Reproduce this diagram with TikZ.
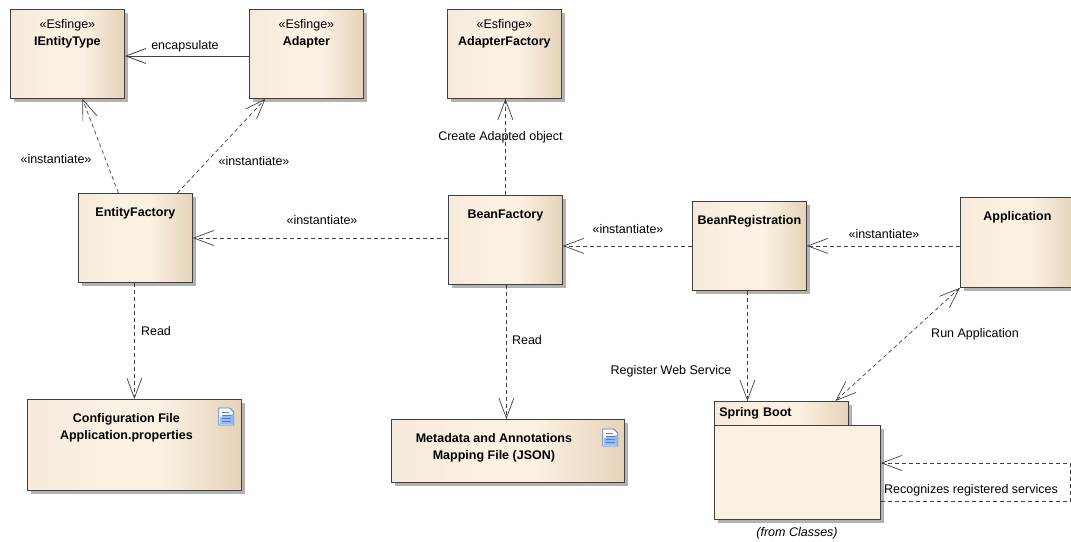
\documentclass[tikz,border=0pt]{standalone}
\usepackage{fontspec}
\setmainfont{Liberation Sans}
\usetikzlibrary{arrows.meta, shadows, positioning, calc}
\definecolor{boxleft}{HTML}{F5EADB}
\definecolor{boxmid}{HTML}{FBF1E3}
\definecolor{boxright}{HTML}{E5D3B9}
\definecolor{linegray}{HTML}{404040}
\definecolor{iconblue}{HTML}{4A7FD6}
\pgfdeclarehorizontalshading{boxshade}{100bp}{color(0bp)=(boxleft); color(25bp)=(boxleft); color(44bp)=(boxmid); color(56bp)=(boxmid); color(75bp)=(boxright); color(100bp)=(boxright)}
\tikzset{
  docicon/.pic={
    \draw [iconblue, fill=white, line width=.8pt] (0,0)--(11,0)--(15,4)--(15,17)--(0,17)--cycle;
    \fill [iconblue!55] (1,9)--(14,6)--(14,16)--(1,16)--cycle;
    \draw [iconblue, line width=.8pt] (3,4)--(10,4) (3,7)--(12,7) (3,10)--(12,10) (3,13)--(12,13);
  }
}
\begin{document}
\begin{tikzpicture}[x=1pt,y=-1pt,>={Straight Barb[length=20pt,width=15pt]},
      every node/.style={font=\fontsize{12.5}{17}\selectfont,text=black,inner sep=0pt},
      shade box/.style={draw=linegray,line width=.8pt,shading=boxshade,
         drop shadow={shadow xshift=4pt,shadow yshift=-4pt,fill=black,opacity=.3},anchor=north west},
      class/.style={shade box,align=center,minimum width=114pt,text height=36pt,text depth=53pt},
      plainclass/.style={class,text height=23pt,text depth=66pt},
      filebox/.style={shade box,minimum width=214pt,text height=23pt,text depth=68pt},
      dep/.style={->,dashed,dash pattern=on 4pt off 3pt,draw=linegray,line width=.7pt},
      rel/.style={->,draw=linegray,line width=.8pt}]
            \useasboundingbox (0,0) rectangle (1071,541);

            % classes
            \node [class] at (10,9) (ientity) {«Esfinge»\\\textbf{IEntityType}};
            \node [class] at (249,9) (adapter) {«Esfinge»\\\textbf{Adapter}};
            \node [class] at (447,9) (adapterfac) {«Esfinge»\\\textbf{AdapterFactory}};
            \node [plainclass] at (78,193) (entityfac) {\textbf{EntityFactory}};
            \node [plainclass] at (448,195) (beanfac) {\textbf{BeanFactory}};
            \node [plainclass] at (692,201) (beanreg) {\textbf{BeanRegistration}};
            \node [plainclass,text depth=67pt] at (960,197) (app) {\textbf{Application}};

            % files
            \node [filebox] at (27,399) (config) {\begin{tabular}[t]{@{}c@{}}\textbf{Configuration File}\\\textbf{Application.properties}\end{tabular}\hspace{16pt}\null};
            \node [filebox,minimum width=233pt,text height=23pt,text depth=40pt] at (391,419) (metadata) {\begin{tabular}[t]{@{}c@{}}\textbf{Metadata and Annotations}\\\textbf{Mapping File (JSON)}\end{tabular}\hspace{28pt}\null};
            \pic at ([xshift=-23pt,yshift=-9pt]config.north east) {docicon};
            \pic at ([xshift=-22pt,yshift=-10pt]metadata.north east) {docicon};

            % package
            \node [shade box,minimum width=134pt,minimum height=24pt,text height=15pt,text depth=9pt,align=left,text width=124pt] at (714,401) (springtab) {\textbf{Spring Boot}};
            \node [draw=linegray,line width=.8pt,fill=boxmid,minimum width=166pt,minimum height=94pt,anchor=north west,
               drop shadow={shadow xshift=4pt,shadow yshift=-4pt,fill=black,opacity=.3}] at (714,425) (springbody) {};
            \node at (797,533) (fromclasses) {\textit{(from Classes)}};

            % connectors
            \draw [rel] (adapter.west |- 0,56) -- (ientity.east |- 0,56);
            \draw [dep] ([xshift=-17pt]entityfac.north) -- ([xshift=15pt]ientity.south);
            \draw [dep] ([xshift=42pt]entityfac.north) -- ([xshift=-41pt]adapter.south);
            \draw [dep] (beanfac.north) -- ([xshift=1pt]adapterfac.south);
            \draw [dep] (beanfac.west |- 0,238) -- (entityfac.east |- 0,238);
            \draw [dep] (beanreg.west) -- (beanfac.east |- beanreg.west);
            \draw [dep] (app.west |- beanreg.east) -- (beanreg.east);
            \draw [dep] ([xshift=-1pt]entityfac.south) -- ([xshift=-1pt]entityfac.south |- config.north);
            \draw [dep] ([xshift=1pt]beanfac.south) -- ([xshift=1pt]beanfac.south |- metadata.north);
            \draw [dep] ([xshift=-2pt]beanreg.south) -- ([xshift=-34pt]springtab.north);
            \draw [dep,<->] (app.south west) -- ([xshift=54pt]springtab.north);
            \coordinate (loopa) at (1070.5,501);
            \coordinate (loopb) at (1070.5,463);
            \draw [dep] (springbody.east |- loopa) -- (loopa) -- (loopb) -- (springbody.east |- loopb);

            % labels
            \node at (185,46) (encaps) {encapsulate};
            \node at (56,159) (inst1) {«instantiate»};
            \node at (254,161) (inst2) {«instantiate»};
            \node at (322,220) (inst3) {«instantiate»};
            \node at (628,229) (inst4) {«instantiate»};
            \node at (884,234) (inst5) {«instantiate»};
            \node at (500.5,137) (create) {Create Adapted object};
            \node at (156,331) (read1) {Read};
            \node at (527,340) (read2) {Read};
            \node at (671,371) (register) {Register Web Service};
            \node at (975,334) (runapp) {Run Application};
            \node at (971,490) (recognizes) {Recognizes registered services};
\end{tikzpicture}
\end{document}
